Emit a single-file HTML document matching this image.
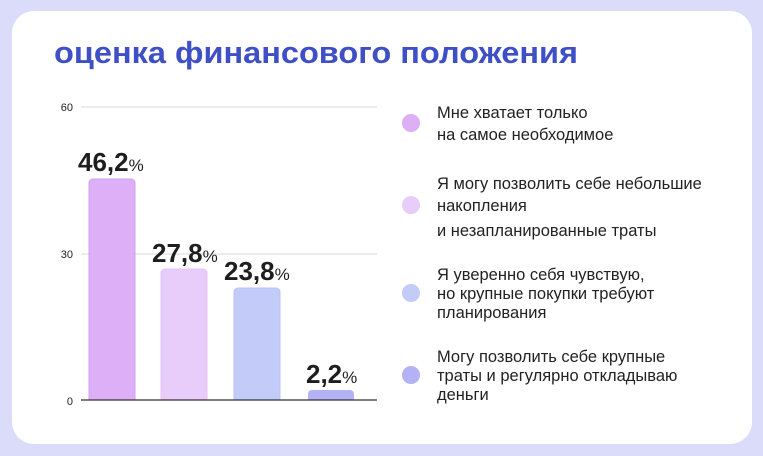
<!DOCTYPE html>
<html><head><meta charset="utf-8"><style>
html,body{margin:0;padding:0;background:#dadcf9;}
body{width:763px;height:456px;overflow:hidden;position:relative;font-family:"Liberation Sans",sans-serif;}
</style></head><body>
<svg width="763" height="456" xmlns="http://www.w3.org/2000/svg" style="position:absolute;left:0;top:0">
<rect x="0" y="0" width="763" height="456" fill="#dadcf9"/>
<rect x="12" y="11" width="740" height="433" rx="22" fill="#ffffff"/>
<text x="54" y="63" font-family="Liberation Sans, sans-serif" font-size="31" font-weight="bold" fill="#3f4fc6" textLength="524" lengthAdjust="spacingAndGlyphs">оценка финансового положения</text>
<g font-family="Liberation Sans, sans-serif" font-size="11" fill="#222">
<text x="73" y="111" text-anchor="end">60</text>
<text x="73" y="258" text-anchor="end">30</text>
<text x="73" y="405" text-anchor="end">0</text>
</g>
<line x1="81" y1="107" x2="377" y2="107" stroke="#e6e6e6" stroke-width="1.5"/>
<line x1="81" y1="254" x2="377" y2="254" stroke="#e6e6e6" stroke-width="1.5"/>
<path d="M89 400 V183 a4 4 0 0 1 4 -4 H131 a4 4 0 0 1 4 4 V400Z" fill="#dcaff7" stroke="#d59cf5"/>
<path d="M161 400 V273 a4 4 0 0 1 4 -4 H203 a4 4 0 0 1 4 4 V400Z" fill="#e8cdfa" stroke="#e3c4fa"/>
<path d="M234 400 V292 a4 4 0 0 1 4 -4 H276 a4 4 0 0 1 4 4 V400Z" fill="#c3cbf8" stroke="#b9c2f8"/>
<path d="M308 400 V394 a4 4 0 0 1 4 -4 H350 a4 4 0 0 1 4 4 V400Z" fill="#b3b2f4"/>
<line x1="81" y1="400" x2="377" y2="400" stroke="#333" stroke-width="1.2"/>
<g font-family="Liberation Sans, sans-serif" font-weight="bold" fill="#1e1e1e">
<text x="78" y="171" font-size="26">46,2<tspan font-size="17" font-weight="normal">%</tspan></text>
<text x="152" y="262" font-size="26">27,8<tspan font-size="17" font-weight="normal">%</tspan></text>
<text x="224" y="280" font-size="26">23,8<tspan font-size="17" font-weight="normal">%</tspan></text>
<text x="306" y="383" font-size="26">2,2<tspan font-size="17" font-weight="normal">%</tspan></text>
</g>
<circle cx="411" cy="123" r="9" fill="#dcaff7"/>
<circle cx="411" cy="205" r="9" fill="#e8cdfa"/>
<circle cx="411" cy="293" r="9" fill="#c3cbf8"/>
<circle cx="411" cy="375" r="9" fill="#b3b2f4"/>
<g font-family="Liberation Sans, sans-serif" font-size="16.5" fill="#222">
<text x="437" y="118">Мне хватает только</text>
<text x="437" y="140">на самое необходимое</text>
<text x="437" y="189">Я могу позволить себе небольшие</text>
<text x="437" y="211">накопления</text>
<text x="437" y="236">и незапланированные траты</text>
<text x="437" y="280">Я уверенно себя чувствую,</text>
<text x="437" y="299">но крупные покупки требуют</text>
<text x="437" y="318">планирования</text>
<text x="437" y="362">Могу позволить себе крупные</text>
<text x="437" y="381">траты и регулярно откладываю</text>
<text x="437" y="400">деньги</text>
</g>
</svg>
</body></html>
